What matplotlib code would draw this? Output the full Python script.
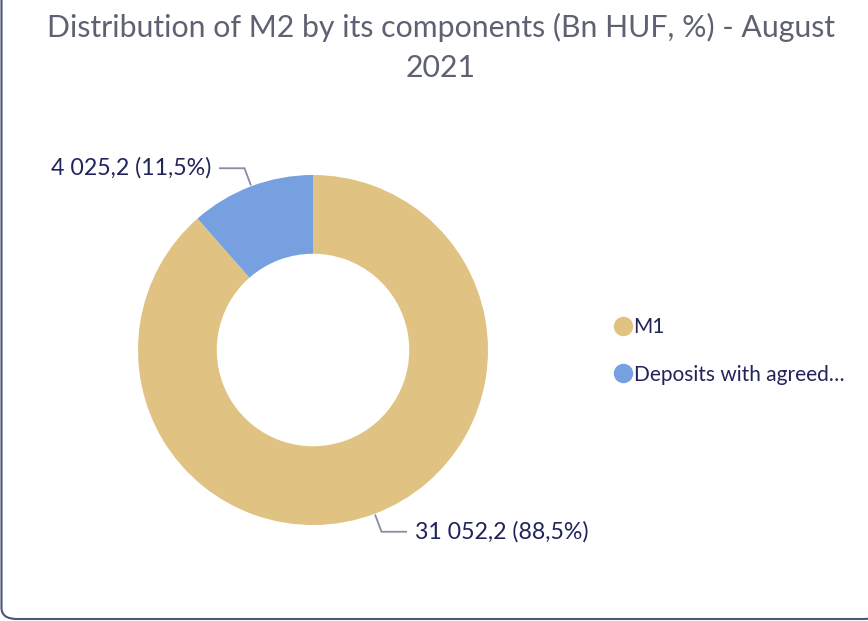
import numpy as np
import matplotlib
matplotlib.use("Agg")
import matplotlib.pyplot as plt
from matplotlib.patches import FancyBboxPatch
from matplotlib.lines import Line2D

# Components of M2, August 2021 (Bn HUF)
categories = ["M1", "Deposits with agreed…"]
values = [31052.2, 4025.2]
shares = [88.5, 11.5]
value_labels = ["31 052,2", "4 025,2"]
colors = ["#E0C283", "#76A0E0"]

FONT = "Lato"
TEXT_DARK = "#20245A"
TITLE_GREY = "#5E6172"
LEADER = "#8A8CA3"

W, H = 868, 621
fig = plt.figure(figsize=(W / 100, H / 100), dpi=100)
fig.patch.set_facecolor("white")

# Rounded frame around the chart card
frame = FancyBboxPatch((1.5 / W, 2.0 / H), (W + 10) / W, (H + 20) / H,
                       boxstyle="round,pad=0,rounding_size=0.018",
                       transform=fig.transFigure, facecolor="none",
                       edgecolor="#50547A", linewidth=1.5, clip_on=False)
fig.add_artist(frame)

fig.text(441 / W, 1 - 27 / H, "Distribution of M2 by its components (Bn HUF, %) - August",
         ha="center", va="center", fontsize=21.8, color=TITLE_GREY, family=FONT)
fig.text(441 / W, 1 - 68 / H, "2021",
         ha="center", va="center", fontsize=21.8, color=TITLE_GREY, family=FONT)

# Donut axes: centre (313, 350) px, radius 175 px
cx, cy, r = 313, 350, 175
ax = fig.add_axes([(cx - r) / W, (H - cy - r) / H, 2 * r / W, 2 * r / H])
wedges, _ = ax.pie(values, colors=colors, startangle=90, counterclock=False,
                   radius=1.0, wedgeprops=dict(width=0.45, edgecolor="none"))
ax.set_xlim(-1, 1)
ax.set_ylim(-1, 1)
ax.set_aspect("equal")
ax.axis("off")

# Value labels with elbow leader lines
for w, vl, sh in zip(wedges, value_labels, shares):
    mid = np.deg2rad((w.theta1 + w.theta2) / 2)
    ux, uy = np.cos(mid), np.sin(mid)
    side = 1 if ux > 0 else -1
    p0 = (1.01 * ux, 1.01 * uy)
    p1 = (1.11 * ux, 1.11 * uy)
    p2 = (p1[0] + side * 0.14, p1[1])
    ax.plot([p0[0], p1[0], p2[0]], [p0[1], p1[1], p2[1]], color=LEADER,
            lw=1.3, clip_on=False, solid_joinstyle="miter")
    txt = f"{vl} ({sh:.1f}%)".replace(".", ",")
    ax.text(p2[0] + side * 0.05, p2[1], txt, ha="left" if side > 0 else "right",
            va="center", fontsize=16.7, color=TEXT_DARK, family=FONT, clip_on=False)

handles = [Line2D([], [], marker="o", linestyle="none", markersize=14,
                  markerfacecolor=c, markeredgecolor="none") for c in colors]
fig.legend(handles, categories, loc="center left",
           bbox_to_anchor=(594 / W, 1 - 351 / H), frameon=False,
           handlelength=1.0, handletextpad=0.0, labelspacing=1.3,
           prop=dict(family=FONT, size=15), labelcolor=TEXT_DARK)

fig.savefig("out.png", dpi=100, facecolor="white")
